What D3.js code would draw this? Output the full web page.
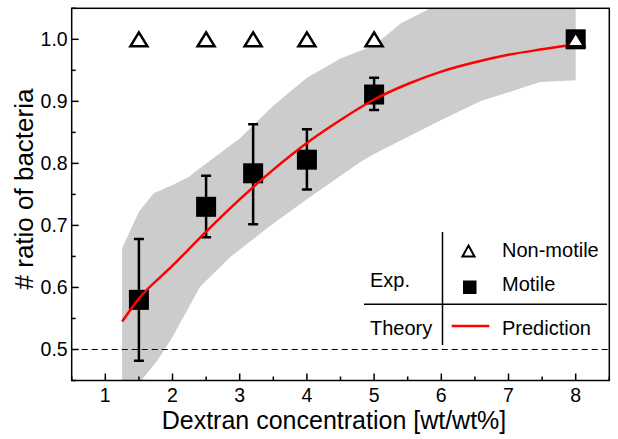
<!DOCTYPE html>
<html>
<head>
<meta charset="utf-8">
<script src="https://cdn.jsdelivr.net/npm/d3@7"></script>
<style>
  body { margin: 0; background: #fff; }
  text { font-family: Arial, "Liberation Sans", sans-serif; fill: #000; }
</style>
</head>
<body>
<div id="chart"></div>
<script>
// data
let xTicks = [1, 2, 3, 4, 5, 6, 7, 8]
let yTicks = [0.5, 0.6, 0.7, 0.8, 0.9, 1.0]

let nonMotileX = [1.5, 2.5, 3.2, 4, 5, 8]
let nonMotileY = [1, 1, 1, 1, 1, 1]

let motileX = [1.5, 2.5, 3.2, 4, 5, 8]
let motileY = [0.58, 0.73, 0.784, 0.806, 0.911, 1.0]
let motileLo = [0.482, 0.681, 0.702, 0.758, 0.886, 1.0]
let motileHi = [0.678, 0.780, 0.863, 0.855, 0.938, 1.0]

let predX = [1.25, 1.5, 2, 2.5, 3, 3.5, 4, 4.5, 5, 5.5, 6, 6.5, 7, 7.5, 8]
let predY = [0.545, 0.582, 0.635, 0.69, 0.742, 0.79, 0.833, 0.87, 0.903, 0.928, 0.948, 0.963, 0.975, 0.984, 0.992]

let bandUpX = [1.25, 1.5, 1.72, 2.0, 2.24, 2.5, 3.0, 3.5, 4.0, 4.5, 5.0, 5.4, 5.84, 6.5, 7.0, 8.0]
let bandUpY = [0.663, 0.722, 0.752, 0.765, 0.778, 0.80, 0.84, 0.893, 0.938, 0.969, 0.99, 1.026, 1.05, 1.075, 1.09, 1.1]
let bandLoX = [1.25, 1.45, 1.5, 1.78, 2.0, 2.41, 2.86, 3.46, 4.0, 4.79, 5.0, 6.0, 6.58, 7.47, 8.0]
let bandLoY = [0.43, 0.43, 0.445, 0.483, 0.52, 0.601, 0.649, 0.70, 0.742, 0.802, 0.815, 0.87, 0.90, 0.931, 0.934]

let width = 618, height = 439
let margin = {left: 71.7, right: 8.7, top: 8.3, bottom: 58.5}

let svg = d3.select('#chart').append('svg')
    .attr('width', width)
    .attr('height', height)

let x = d3.scaleLinear().domain([0.5, 8.5]).range([margin.left, width - margin.right])
let y = d3.scaleLinear().domain([0.45, 1.05]).range([height - margin.bottom, margin.top])

svg.append('clipPath').attr('id', 'plotClip')
    .append('rect')
    .attr('x', x(0.5)).attr('y', y(1.05))
    .attr('width', x(8.5) - x(0.5)).attr('height', y(0.45) - y(1.05))

let plot = svg.append('g').attr('clip-path', 'url(#plotClip)')

// grey confidence band
let band = bandUpX.map((d, i) => [d, bandUpY[i]])
    .concat(bandLoX.map((d, i) => [d, bandLoY[i]]).reverse())
plot.append('path')
    .attr('d', d3.line().x(d => x(d[0])).y(d => y(d[1]))(band) + 'Z')
    .attr('fill', '#cccccc')

// dashed 0.5 line
plot.append('line')
    .attr('x1', x(0.5)).attr('x2', x(8.5))
    .attr('y1', y(0.5)).attr('y2', y(0.5))
    .attr('stroke', '#000').attr('stroke-width', 1.2)
    .attr('stroke-dasharray', '6,4')

// error bars
let motile = motileX.map((d, i) => ({x: d, y: motileY[i], lo: motileLo[i], hi: motileHi[i]}))
let bars = plot.selectAll('.err').data(motile.filter(d => d.hi > d.lo)).enter().append('g')
bars.append('line')
    .attr('x1', d => x(d.x)).attr('x2', d => x(d.x))
    .attr('y1', d => y(d.lo)).attr('y2', d => y(d.hi))
    .attr('stroke', '#000').attr('stroke-width', 2.5)
bars.selectAll('.cap').data(d => [[d.x, d.lo], [d.x, d.hi]]).enter().append('line')
    .attr('x1', d => x(d[0]) - 5).attr('x2', d => x(d[0]) + 5)
    .attr('y1', d => y(d[1])).attr('y2', d => y(d[1]))
    .attr('stroke', '#000').attr('stroke-width', 2.5)

// motile squares
plot.selectAll('.sq').data(motile).enter().append('rect')
    .attr('x', d => x(d.x) - 10).attr('y', d => y(d.y) - 10)
    .attr('width', 20).attr('height', 20)
    .attr('fill', '#000')

// prediction
plot.append('path')
    .datum(predX.map((d, i) => [d, predY[i]]))
    .attr('d', d3.line().curve(d3.curveMonotoneX).x(d => x(d[0])).y(d => y(d[1])))
    .attr('fill', 'none').attr('stroke', '#ff0000').attr('stroke-width', 2.5)

// non-motile triangles
function tri(cx, cy, w, h) {
    return `M${cx},${cy - h / 2}L${cx + w / 2},${cy + h / 2}L${cx - w / 2},${cy + h / 2}Z`
}
plot.selectAll('.tri').data(nonMotileX.map((d, i) => [d, nonMotileY[i]])).enter().append('path')
    .attr('d', d => tri(x(d[0]), y(d[1]), 17, 14))
    .attr('fill', '#fff').attr('stroke', '#000').attr('stroke-width', 2.5)
    .attr('stroke-linejoin', 'miter')

// axes (ticks inward)
let xMinor = d3.range(0.5, 8.51, 0.5).filter(d => !xTicks.includes(d))
let yMinor = d3.range(0.45, 1.051, 0.1).map(d => +d.toFixed(2))

let gx = svg.append('g')
gx.selectAll('.xt').data(xTicks).enter().append('line')
    .attr('x1', d => x(d)).attr('x2', d => x(d))
    .attr('y1', y(0.45)).attr('y2', y(0.45) - 7)
    .attr('stroke', '#000').attr('stroke-width', 1.5)
gx.selectAll('.xm').data(xMinor).enter().append('line')
    .attr('x1', d => x(d)).attr('x2', d => x(d))
    .attr('y1', y(0.45)).attr('y2', y(0.45) - 4)
    .attr('stroke', '#000').attr('stroke-width', 1.5)
gx.selectAll('.xl').data(xTicks).enter().append('text')
    .attr('x', d => x(d)).attr('y', y(0.45) + 21)
    .attr('text-anchor', 'middle').style('font-size', '19.5px')
    .text(d => d)

let gy = svg.append('g')
gy.selectAll('.yt').data(yTicks).enter().append('line')
    .attr('x1', x(0.5)).attr('x2', x(0.5) + 7)
    .attr('y1', d => y(d)).attr('y2', d => y(d))
    .attr('stroke', '#000').attr('stroke-width', 1.5)
gy.selectAll('.ym').data(yMinor).enter().append('line')
    .attr('x1', x(0.5)).attr('x2', x(0.5) + 4)
    .attr('y1', d => y(d)).attr('y2', d => y(d))
    .attr('stroke', '#000').attr('stroke-width', 1.5)
gy.selectAll('.yl').data(yTicks).enter().append('text')
    .attr('x', x(0.5) - 4).attr('y', d => y(d) + 7)
    .attr('text-anchor', 'end').style('font-size', '19.5px')
    .text(d => d3.format('.1f')(d))

// frame
svg.append('rect')
    .attr('x', x(0.5)).attr('y', y(1.05))
    .attr('width', x(8.5) - x(0.5)).attr('height', y(0.45) - y(1.05))
    .attr('fill', 'none').attr('stroke', '#000').attr('stroke-width', 1.5)

// axis titles
svg.append('text')
    .attr('x', 334).attr('y', 429)
    .attr('text-anchor', 'middle').style('font-size', '25px')
    .text('Dextran concentration [wt/wt%]')
svg.append('text')
    .attr('transform', 'translate(33,' + 189 + ') rotate(-90)')
    .attr('text-anchor', 'middle').style('font-size', '26px')
    .text('# ratio of bacteria')

// legend table
let lg = svg.append('g')
lg.append('line').attr('x1', 442.5).attr('x2', 442.5).attr('y1', 232).attr('y2', 345)
    .attr('stroke', '#000').attr('stroke-width', 1.5)
lg.append('line').attr('x1', 364).attr('x2', 607).attr('y1', 304.3).attr('y2', 304.3)
    .attr('stroke', '#000').attr('stroke-width', 1.5)
lg.append('text').attr('x', 370).attr('y', 287).style('font-size', '20px').text('Exp.')
lg.append('text').attr('x', 370).attr('y', 335).style('font-size', '20px').text('Theory')
lg.append('text').attr('x', 502).attr('y', 256.5).style('font-size', '20px').text('Non-motile')
lg.append('text').attr('x', 502).attr('y', 291).style('font-size', '20px').text('Motile')
lg.append('text').attr('x', 502).attr('y', 335).style('font-size', '20px').text('Prediction')
lg.append('path').attr('d', tri(468.5, 251, 12, 11))
    .attr('fill', '#fff').attr('stroke', '#000').attr('stroke-width', 2)
lg.append('rect').attr('x', 463).attr('y', 280.5).attr('width', 13.5).attr('height', 13.5).attr('fill', '#000')
lg.append('line').attr('x1', 451.7).attr('x2', 489.3).attr('y1', 326).attr('y2', 326)
    .attr('stroke', '#ff0000').attr('stroke-width', 2.5)
</script>
</body>
</html>
